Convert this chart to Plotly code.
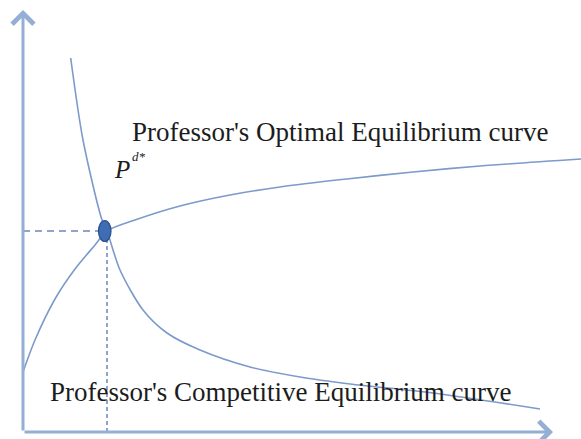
import plotly.graph_objects as go

# Quantity / price coordinates measured from the origin of the two axes
competitive_q = [47.7, 60, 79, 84, 97, 120, 144, 177, 227, 277, 327, 410, 517]
competitive_p = [374, 292, 212, 201, 162, 122, 99, 82, 65, 55, 48, 39, 23]

optimal_q = [0, 12, 32, 52, 72, 84, 112, 157, 207, 257, 324, 390, 457, 558]
optimal_p = [60, 92, 133, 163, 187, 201, 212, 226, 237, 245, 253, 260, 266, 273]

eq_q, eq_p = 84, 201          # equilibrium P^{d*}
axis_q_max, axis_p_max = 530, 422

curve_color = "#7c9acb"
axis_color = "#94aed6"
dash_color = "#6d88b6"
text_font = dict(family="Liberation Serif, Times New Roman, serif", size=27, color="#1c1c1c")

fig = go.Figure()

# dashed guides from the equilibrium to both axes
fig.add_trace(go.Scatter(x=[0, eq_q], y=[eq_p, eq_p], mode="lines",
                         line=dict(color=dash_color, width=1.5, dash="7px,5px"),
                         hoverinfo="skip"))
fig.add_trace(go.Scatter(x=[eq_q, eq_q], y=[0, eq_p], mode="lines",
                         line=dict(color=dash_color, width=1.5, dash="4px,3px"),
                         hoverinfo="skip"))

# the two equilibrium curves
fig.add_trace(go.Scatter(x=competitive_q, y=competitive_p, mode="lines",
                         line=dict(color=curve_color, width=1.6, shape="spline", smoothing=0.8),
                         name="Competitive"))
fig.add_trace(go.Scatter(x=optimal_q, y=optimal_p, mode="lines",
                         line=dict(color=curve_color, width=1.6, shape="spline", smoothing=0.8),
                         name="Optimal"))

# axes with open arrowheads
for tip_x, tip_y in [(0, axis_p_max), (axis_q_max, 0)]:
    fig.add_annotation(x=tip_x, y=tip_y, ax=0, ay=0, axref="x", ayref="y",
                       xref="x", yref="y", text="", showarrow=True,
                       arrowhead=4, arrowwidth=3, arrowsize=1.4, arrowcolor=axis_color)

# equilibrium point marker (ellipse)
fig.add_shape(type="circle", xref="x", yref="y", xsizemode="pixel", ysizemode="pixel",
              xanchor=eq_q, yanchor=eq_p, x0=-8.5, x1=4.0, y0=-10.5, y1=10.5,
              fillcolor="#3f6db3", line=dict(color="#2b4f8c", width=1.2), layer="above")

# labels
fig.add_annotation(x=317, y=300, xref="x", yref="y", text="Professor's Optimal Equilibrium curve",
                   showarrow=False, font=text_font, xanchor="center", yanchor="middle")
fig.add_annotation(x=258, y=40, xref="x", yref="y", text="Professor's Competitive Equilibrium curve",
                   showarrow=False, font=text_font, xanchor="center", yanchor="middle")
fig.add_annotation(x=99, y=263, xref="x", yref="y", text="<i>P</i>",
                   showarrow=False, xanchor="center", yanchor="middle",
                   font=dict(family="Liberation Serif, serif", size=25, color="#1c1c1c"))
fig.add_annotation(x=116, y=276, xref="x", yref="y", text="<i>d*</i>",
                   showarrow=False, xanchor="center", yanchor="middle",
                   font=dict(family="Liberation Serif, serif", size=13, color="#1c1c1c"))

fig.update_layout(
    width=581, height=439,
    margin=dict(l=0, r=0, t=0, b=0),
    paper_bgcolor="white", plot_bgcolor="white",
    showlegend=False,
    xaxis=dict(visible=False, range=[-23, 558], fixedrange=True),
    yaxis=dict(visible=False, range=[-7, 432], fixedrange=True),
)

fig.write_html("out.html")
